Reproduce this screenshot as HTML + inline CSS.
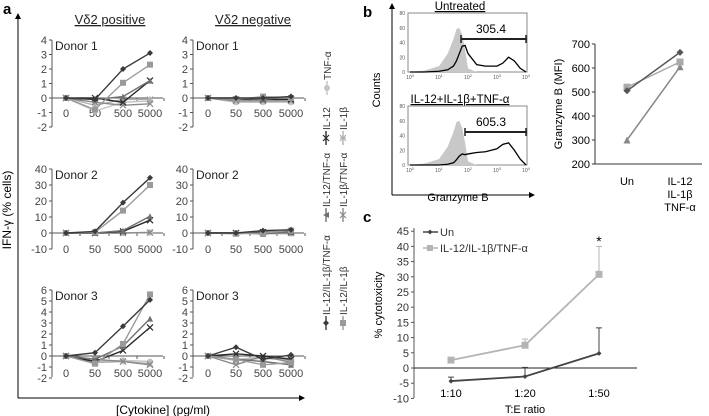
<!DOCTYPE html>
<html><head><meta charset="utf-8"><style>
body{margin:0;background:#fff}
svg{display:block;font-family:"Liberation Sans",sans-serif}
</style></head><body>
<svg id="fig" width="709" height="416" viewBox="0 0 709 416" xmlns="http://www.w3.org/2000/svg">
<defs>
<marker id="arr" viewBox="0 0 10 10" refX="5" refY="5" markerWidth="6" markerHeight="6" orient="auto"><path d="M0,0L10,5L0,10z" fill="#000"/></marker>
</defs>
<g id="root"></g>
</svg>
<script>
// ---------- Panel a data ----------
const cats = ["0","50","500","5000"];
const seriesNames = ["IL-12/IL-1β/TNF-α","IL-12/IL-1β","IL-12/TNF-α","IL-12","IL-1β/TNF-α","IL-1β","TNF-α"];
const d1pos = [[0,-0.1,2,3.1],[0,-0.8,1.05,2.3],[0,-0.1,0.1,1.2],[0,0,-0.3,1.2],[0,-0.3,-0.5,-0.4],[0,-0.5,-0.1,-0.1],[0,-0.9,-0.3,-0.2]];
const d1neg = [[0,0,0,0.1],[0,-0.1,0.1,0],[0,0,-0.1,0.1],[0,-0.1,-0.1,-0.1],[0,-0.2,-0.2,-0.2],[0,-0.1,0,-0.1],[0,-0.3,-0.3,-0.3]];
const d2pos = [[0,1,19,34.5],[0,0.5,14,30],[0,0,1.5,10.5],[0,0,1,8],[0,0,0,0.3],[0,0,0,0.2],[0,0,0,0.5]];
const d2neg = [[0,0,1.5,2],[0,-0.5,0,1.5],[0,0,-0.5,0.5],[0,0,0.5,1],[0,0,0,0],[0,-0.3,0,0.3],[0,0,-0.5,-0.5]];
const d3pos = [[0,0.3,2.7,5.1],[0,-0.7,1.1,5.6],[0,-0.3,0.9,3.4],[0,-0.5,0.5,2.6],[0,-0.3,-0.5,-0.8],[0,-0.6,-0.5,-0.7],[0,-0.5,-0.4,-0.5]];
const d3neg = [[0,0.8,-0.3,0.1],[0,-0.3,-0.8,-0.6],[0,-0.3,-0.5,-0.8],[0,0.2,0,-0.3],[0,-0.8,0,-0.6],[0,-0.4,-0.2,-0.4],[0,-0.3,-0.1,-0.2]];
const yTicks1 = [4,3,2,1,0,-1,-2];
const yTicks2 = [40,30,20,10,0,-10];
const yTicks3 = [6,5,4,3,2,1,0,-1,-2];
// ---------- Panel b data ----------
const histLogX = [0,0.5,1,1.3,1.5,1.6,1.7,1.8,1.9,2,2.3,2.6,3,3.2,3.4,3.6,3.8,4];
const histIso = [0,2,8,25,45,58,60,50,30,5,0,0,0,0,0,0,0,0];
const histUn = [0,0,1,3,8,15,25,35,36,25,10,8,8,12,20,15,5,0];
const histTr = [0,0,0,1,3,7,12,15,14,15,17,18,22,28,30,20,8,0];
const mfiCats = ["Un","IL-12"];
const mfiDia = [505,665];
const mfiSq = [520,625];
const mfiTri = [300,605];
const mfiTicks = [700,600,500,400,300,200];
// ---------- Panel c data ----------
const ratios = ["1:10","1:20","1:50"];
const unVals = [-4.3,-2.8,4.8];
const unErr = [1.3,3,8.4];
const ilVals = [2.6,7.5,30.8];
const ilErr = [0.6,2,9.2];
const cTicks = [45,40,35,30,25,20,15,10,5,0,-5,-10];

const NS="http://www.w3.org/2000/svg";
const root=document.getElementById('root');
function mk(tag,attrs,parent,text){const e=document.createElementNS(NS,tag);for(const k in attrs)e.setAttribute(k,attrs[k]);if(text!==undefined)e.textContent=text;(parent||root).appendChild(e);return e;}

const styles=[
 {c:"#3a3a3a",m:"dia"},{c:"#9a9a9a",m:"sq"},{c:"#707070",m:"tri"},{c:"#2a2a2a",m:"x"},
 {c:"#8a8a8a",m:"x"},{c:"#b0b0b0",m:"star"},{c:"#c4c4c4",m:"circ"}];
function marker(g,type,x,y,c,s){s=s||3;
 if(type==="dia")mk('path',{d:`M${x},${y-s}L${x+s},${y}L${x},${y+s}L${x-s},${y}z`,fill:c},g);
 else if(type==="sq")mk('rect',{x:x-s,y:y-s,width:2*s,height:2*s,fill:c},g);
 else if(type==="tri")mk('path',{d:`M${x},${y-s}L${x+s},${y+s}L${x-s},${y+s}z`,fill:c},g);
 else if(type==="circ")mk('circle',{cx:x,cy:y,r:s,fill:c},g);
 else{mk('path',{d:`M${x-s},${y-s}L${x+s},${y+s}M${x-s},${y+s}L${x+s},${y-s}`+(type==="star"?`M${x},${y-s}L${x},${y+s}`:""),stroke:c,'stroke-width':1.2},g);}
}

function subplot(name,ax,top,zeroY,bottom,ymax,ticks,data,donor,xs,labY){
 const g=mk('g',{}, root);
 
 
 const yS=v=>zeroY-(v)*(zeroY-top)/ymax;
 mk('line',{x1:ax,y1:top,x2:ax,y2:bottom,stroke:"#555"},g);
 mk('line',{x1:ax,y1:zeroY,x2:xs[3]+13,y2:zeroY,stroke:"#555"},g);
 ticks.forEach(t=>{const y=yS(t);mk('line',{x1:ax-3,y1:y,x2:ax,y2:y,stroke:"#555"},g);
  mk('text',{x:ax-5,y:y+4,'font-size':11,'text-anchor':'end',fill:'#444'},g,t);});
 xs.forEach((x,i)=>{mk('line',{x1:x+14,y1:zeroY,x2:x+14,y2:zeroY+3,stroke:"#555"},g);
  mk('text',{x:x,y:labY,'font-size':11,'text-anchor':'middle',fill:'#444'},g,cats[i]);});
 const lbl=mk('text',{x:ax+3,y:top+10,'font-size':12,fill:'#222'},g,"Donor "+donor);
 
 
 for(let s=data.length-1;s>=0;s--){const st=styles[s];
  const pts=data[s].map((v,i)=>[xs[i],yS(v)]);
  const pl=mk('polyline',{points:pts.map(p=>p.join(',')).join(' '),fill:'none',stroke:st.c,'stroke-width':1.4},g);
  
  
  pts.forEach(p=>marker(g,st.m,p[0],p[1],st.c,3));}
}
const xsP=[66,95,123,150], xsN=[208,236,263,291];
subplot('donor1-positive',52,40,98,127,4,yTicks1,d1pos,1,xsP,117);
subplot('donor1-negative',193,40,98,127,4,yTicks1,d1neg,1,xsN,117);
subplot('donor2-positive',52,169,233,249,40,yTicks2,d2pos,2,xsP,253);
subplot('donor2-negative',193,169,233,249,40,yTicks2,d2neg,2,xsN,253);
subplot('donor3-positive',52,290,356,377,6,yTicks3,d3pos,3,xsP,377);
subplot('donor3-negative',193,290,356,377,6,yTicks3,d3neg,3,xsN,377);

// panel a decorations
let t=mk('text',{x:3,y:14,'font-size':15,'font-weight':'bold'},root,"a");

t=mk('text',{x:110,y:24,'font-size':13,'text-anchor':'middle','text-decoration':'underline',fill:'#222'},root,"Vδ2 positive");

t=mk('text',{x:253,y:24,'font-size':13,'text-anchor':'middle','text-decoration':'underline',fill:'#222'},root,"Vδ2 negative");

mk('line',{x1:18,y1:398,x2:18,y2:16,stroke:'#000','marker-end':'url(#arr)'});
mk('line',{x1:18,y1:398,x2:302,y2:398,stroke:'#000','marker-end':'url(#arr)'});
t=mk('text',{x:163,y:414,'font-size':12,'text-anchor':'middle'},root,"[Cytokine] (pg/ml)");

t=mk('text',{x:0,y:0,'font-size':12,'text-anchor':'middle',transform:'translate(11,210) rotate(-90)'},root,"IFN-γ (% cells)");

// legend (rotated)
const legPos=[[326,330,0],[343,330,1],[326,222,2],[326,145,3],[343,222,4],[343,145,5],[327,95,6]];
legPos.forEach(([x,y,s])=>{const g=mk('g',{transform:`translate(${x},${y}) rotate(-90)`});
 
 mk('line',{x1:0,y1:0,x2:14,y2:0,stroke:styles[s].c,'stroke-width':1.4},g);
 marker(g,styles[s].m,7,0,styles[s].c,3);
 mk('text',{x:15,y:4,'font-size':10,fill:'#333'},g,seriesNames[s]);});

// ---------- Panel b ----------
t=mk('text',{x:363,y:17,'font-size':15,'font-weight':'bold'},root,"b");

mk('line',{x1:392,y1:195,x2:392,y2:6,stroke:'#000','marker-end':'url(#arr)'});
mk('line',{x1:392,y1:195,x2:532,y2:195,stroke:'#000','marker-end':'url(#arr)'});
t=mk('text',{x:0,y:0,'font-size':11,'text-anchor':'middle',transform:'translate(380,90) rotate(-90)'},root,"Counts");

t=mk('text',{x:458,y:201,'font-size':11,'text-anchor':'middle'},root,"Granzyme B");

function hist(name,top,bottom,title,sample,gateX,gateLabel){
 const g=mk('g',{});
 const L=410,R=526;const xS=l=>L+l*(R-L)/4;const yS=v=>bottom-v*(bottom-top)/80;
 mk('rect',{x:408,y:top,width:119,height:bottom-top,fill:'none',stroke:'#888'},g);
 mk('text',{x:460,y:top-3,'font-size':11.5,'text-anchor':'middle','text-decoration':'underline'},g,title);
 [0,20,40,60,80].forEach(v=>mk('text',{x:405,y:yS(v)+2,'font-size':5,'text-anchor':'end',fill:'#555'},g,v));
 [0,1,2,3,4].forEach(d=>{const e=mk('text',{x:xS(d),y:bottom+7,'font-size':5,'text-anchor':'middle',fill:'#555'},g,"10");mk('tspan',{dy:-2,'font-size':4},e,d);});
 let d=`M${xS(histLogX[0])},${yS(0)}`;histLogX.forEach((l,i)=>d+=`L${xS(l)},${yS(histIso[i])}`);d+=`L${xS(4)},${yS(0)}z`;
 mk('path',{d,fill:'#c8c8c8'},g);
 let d2='';histLogX.forEach((l,i)=>d2+=(i?'L':'M')+xS(l)+','+yS(sample[i]));
 mk('path',{d:d2,fill:'none',stroke:'#000','stroke-width':1.3},g);
 mk('line',{x1:gateX,y1:top+26,x2:527,y2:top+26,stroke:'#222','stroke-width':2},g);
 mk('line',{x1:gateX,y1:top+22,x2:gateX,y2:top+30,stroke:'#222','stroke-width':1.5},g);
 mk('line',{x1:526,y1:top+22,x2:526,y2:top+30,stroke:'#222','stroke-width':1.5},g);
 mk('text',{x:491,y:top+20,'font-size':12,'text-anchor':'middle'},g,gateLabel);
}
hist('histogram-untreated',13,72,"Untreated",histUn,461,"305.4");
hist('histogram-treated',106,165,"IL-12+IL-1β+TNF-α",histTr,465,"605.3");
// MFI chart
(function(){const g=mk('g',{});
 const ax=595,yS=v=>164-(v-200)*120/500;const xs=[627,680];
 mk('line',{x1:ax,y1:44,x2:ax,y2:164,stroke:'#333'},g);mk('line',{x1:ax,y1:164,x2:702,y2:164,stroke:'#333'},g);
 mfiTicks.forEach(v=>{mk('line',{x1:ax-3,y1:yS(v),x2:ax,y2:yS(v),stroke:'#333'},g);mk('text',{x:ax-5,y:yS(v)+4,'font-size':11,'text-anchor':'end'},g,v);});
 mk('text',{x:xs[0],y:185,'font-size':11,'text-anchor':'middle'},g,mfiCats[0]);
 ['IL-12','IL-1β','TNF-α'].forEach((s,i)=>mk('text',{x:xs[1],y:185+i*13,'font-size':11,'text-anchor':'middle'},g,s));
 mk('text',{x:0,y:0,'font-size':11,'text-anchor':'middle',transform:'translate(562,104) rotate(-90)'},g,"Granzyme B (MFI)");
 [[mfiTri,'#888','tri'],[mfiSq,'#aaa','sq'],[mfiDia,'#555','dia']].forEach(([v,c,m])=>{
  const l=mk('line',{x1:xs[0],y1:yS(v[0]),x2:xs[1],y2:yS(v[1]),stroke:c,'stroke-width':1.5},g);
  
  v.forEach((y,i)=>marker(g,m,xs[i],yS(y),c,3.5));});
})();

// ---------- Panel c ----------
(function(){const g=mk('g',{});
 mk('text',{x:363,y:222,'font-size':15,'font-weight':'bold'},g,"c");
 const ax=414,yS=v=>368-v*3.04;const xs=[451,525,599];
 mk('line',{x1:ax,y1:228,x2:ax,y2:398,stroke:'#555'},g);mk('line',{x1:ax,y1:yS(0),x2:637,y2:yS(0),stroke:'#222'},g);
 cTicks.forEach(v=>{mk('line',{x1:ax-3,y1:yS(v),x2:ax,y2:yS(v),stroke:'#555'},g);mk('text',{x:ax-5,y:yS(v)+4,'font-size':11,'text-anchor':'end',fill:'#333'},g,v);});
 ratios.forEach((r,i)=>mk('text',{x:xs[i],y:397,'font-size':11,'text-anchor':'middle'},g,r));
 mk('text',{x:525,y:413,'font-size':11,'text-anchor':'middle'},g,"T:E ratio");
 mk('text',{x:0,y:0,'font-size':11,'text-anchor':'middle',transform:'translate(382,305) rotate(-90)'},g,"% cytotoxicity");
 [[ilVals,ilErr,'#b4b4b4','sq',3.5],[unVals,unErr,'#444','dia',2.5]].forEach(([v,e,c,m,s])=>{
  v.forEach((y,i)=>{mk('line',{x1:xs[i],y1:yS(y),x2:xs[i],y2:yS(y+e[i]),stroke:c},g);mk('line',{x1:xs[i]-3,y1:yS(y+e[i]),x2:xs[i]+3,y2:yS(y+e[i]),stroke:c},g);});
  const pl=mk('polyline',{points:v.map((y,i)=>xs[i]+','+yS(y)).join(' '),fill:'none',stroke:c,'stroke-width':1.8},g);
  
  v.forEach((y,i)=>marker(g,m,xs[i],yS(y),c,s));});
 mk('text',{x:599,y:246,'font-size':14,'text-anchor':'middle'},g,"*");
 const l1=mk('g',{},g);
 mk('line',{x1:423,y1:232,x2:438,y2:232,stroke:'#444','stroke-width':1.5},l1);marker(l1,'dia',430,232,'#444',2.5);
 mk('text',{x:440,y:236,'font-size':11,fill:'#333'},l1,"Un");
 const l2=mk('g',{},g);
 mk('line',{x1:423,y1:248,x2:438,y2:248,stroke:'#b4b4b4','stroke-width':1.5},l2);marker(l2,'sq',430,248,'#b4b4b4',3);
 mk('text',{x:440,y:252,'font-size':11,fill:'#333'},l2,"IL-12/IL-1β/TNF-α");
})();
</script>
</body></html>
